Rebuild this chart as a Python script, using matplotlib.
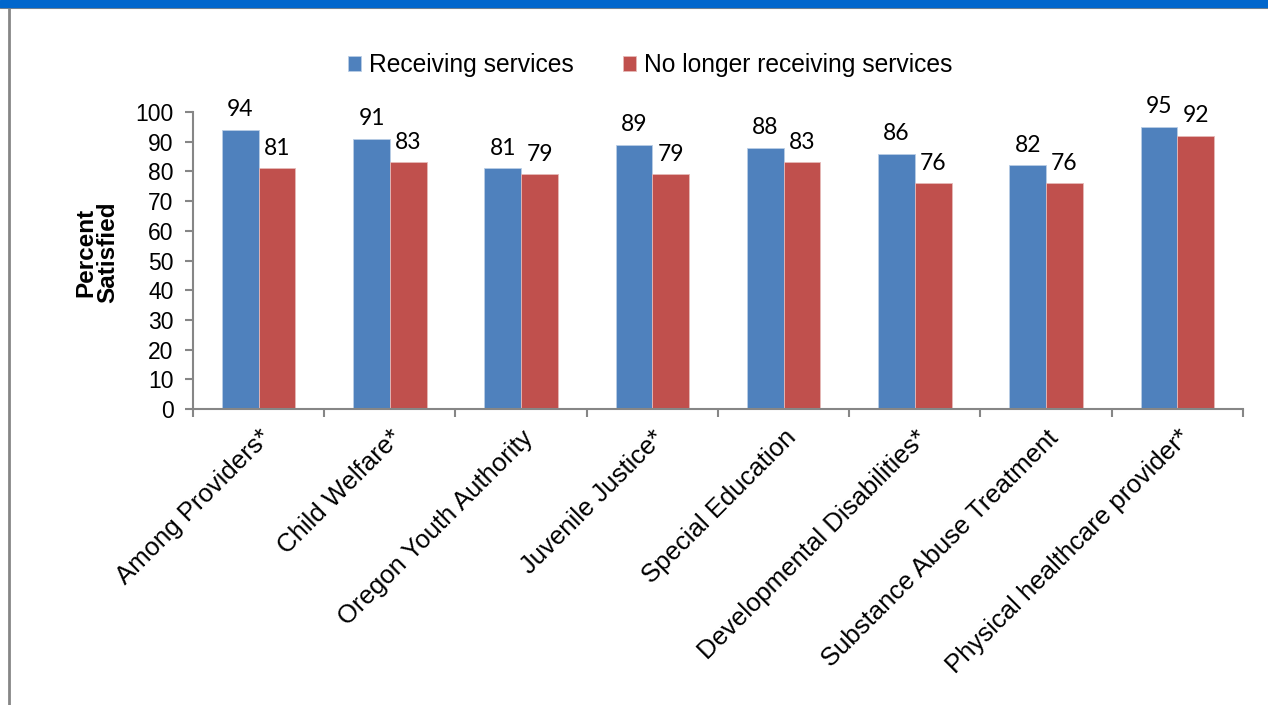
import numpy as np
import matplotlib
matplotlib.use("Agg")
import matplotlib.pyplot as plt
from matplotlib.patches import Rectangle
from matplotlib.lines import Line2D

categories = ["Among Providers*", "Child Welfare*", "Oregon Youth Authority",
              "Juvenile Justice*", "Special Education", "Developmental Disabilities*",
              "Substance Abuse Treatment", "Physical healthcare provider*"]
receiving = [94, 91, 81, 89, 88, 86, 82, 95]
no_longer = [81, 83, 79, 79, 83, 76, 76, 92]
series_names = ["Receiving services", "No longer receiving services"]
yticks = list(range(0, 101, 10))

blue = "#4F81BD"
red = "#C0504D"
grey = "#868686"

plt.rcParams['font.family'] = ['Liberation Sans', 'DejaVu Sans']

fig = plt.figure(figsize=(12.68, 7.05), dpi=100)
ax = fig.add_axes([193/1268, 1 - 409/705, 1050/1268, 297/705])

x = np.arange(len(categories))
w = 0.28
b1 = ax.bar(x - w/2, receiving, w, color=blue, edgecolor="#B9CDE5", linewidth=0.6, label=series_names[0])
b2 = ax.bar(x + w/2, no_longer, w, color=red, edgecolor="#E6B9B8", linewidth=0.6, label=series_names[1])

for bars, vals in ((b1, receiving), (b2, no_longer)):
    for r, v in zip(bars, vals):
        ax.annotate(str(v), (r.get_x() + r.get_width()/2, v), xytext=(0, 7),
                    textcoords="offset points", ha="center", va="bottom",
                    fontsize=16.5, family="Lato", color="#000000")

ax.set_xlim(-0.5, len(categories) - 0.5)
ax.set_ylim(0, 100)
ax.set_yticks(yticks)
ax.set_xticks(x)
ax.set_xticklabels(categories, rotation=45, ha="right", rotation_mode="anchor")
ax.set_xticks(np.arange(-0.5, len(categories)), minor=True)
ax.tick_params(axis="x", which="major", length=0, pad=12, labelsize=18.5)
ax.tick_params(axis="x", which="minor", length=6, color=grey, width=1.5)
ax.tick_params(axis="y", length=6, color=grey, width=1.5, labelsize=16.5, pad=8)

for s in ("top", "right"):
    ax.spines[s].set_visible(False)
for s in ("left", "bottom"):
    ax.spines[s].set_color(grey)
    ax.spines[s].set_linewidth(1.5)

fig.text(97/1268, 1 - 252/705, "Percent\nSatisfied", rotation=90, ha="center", va="center",
         fontsize=17.5, fontweight="bold", linespacing=0.95)

fig.legend(handles=[b1, b2], labels=series_names, loc="center", bbox_to_anchor=(650/1268, 1 - 65/705),
           ncol=2, frameon=False, fontsize=17.7, handlelength=0.55, handleheight=0.55,
           handletextpad=0.3, columnspacing=2.0)

# header band and frame
fig.patches.append(Rectangle((0, 1 - 7/705), 1, 7/705, transform=fig.transFigure,
                             color="#0066CC", zorder=5))
fig.lines.append(Line2D([0, 1], [1 - 8/705, 1 - 8/705], transform=fig.transFigure,
                        color=grey, linewidth=1.5))
fig.lines.append(Line2D([8.5/1268, 8.5/1268], [0, 1 - 7/705], transform=fig.transFigure,
                        color=grey, linewidth=2))

fig.savefig("out.png", dpi=100)
